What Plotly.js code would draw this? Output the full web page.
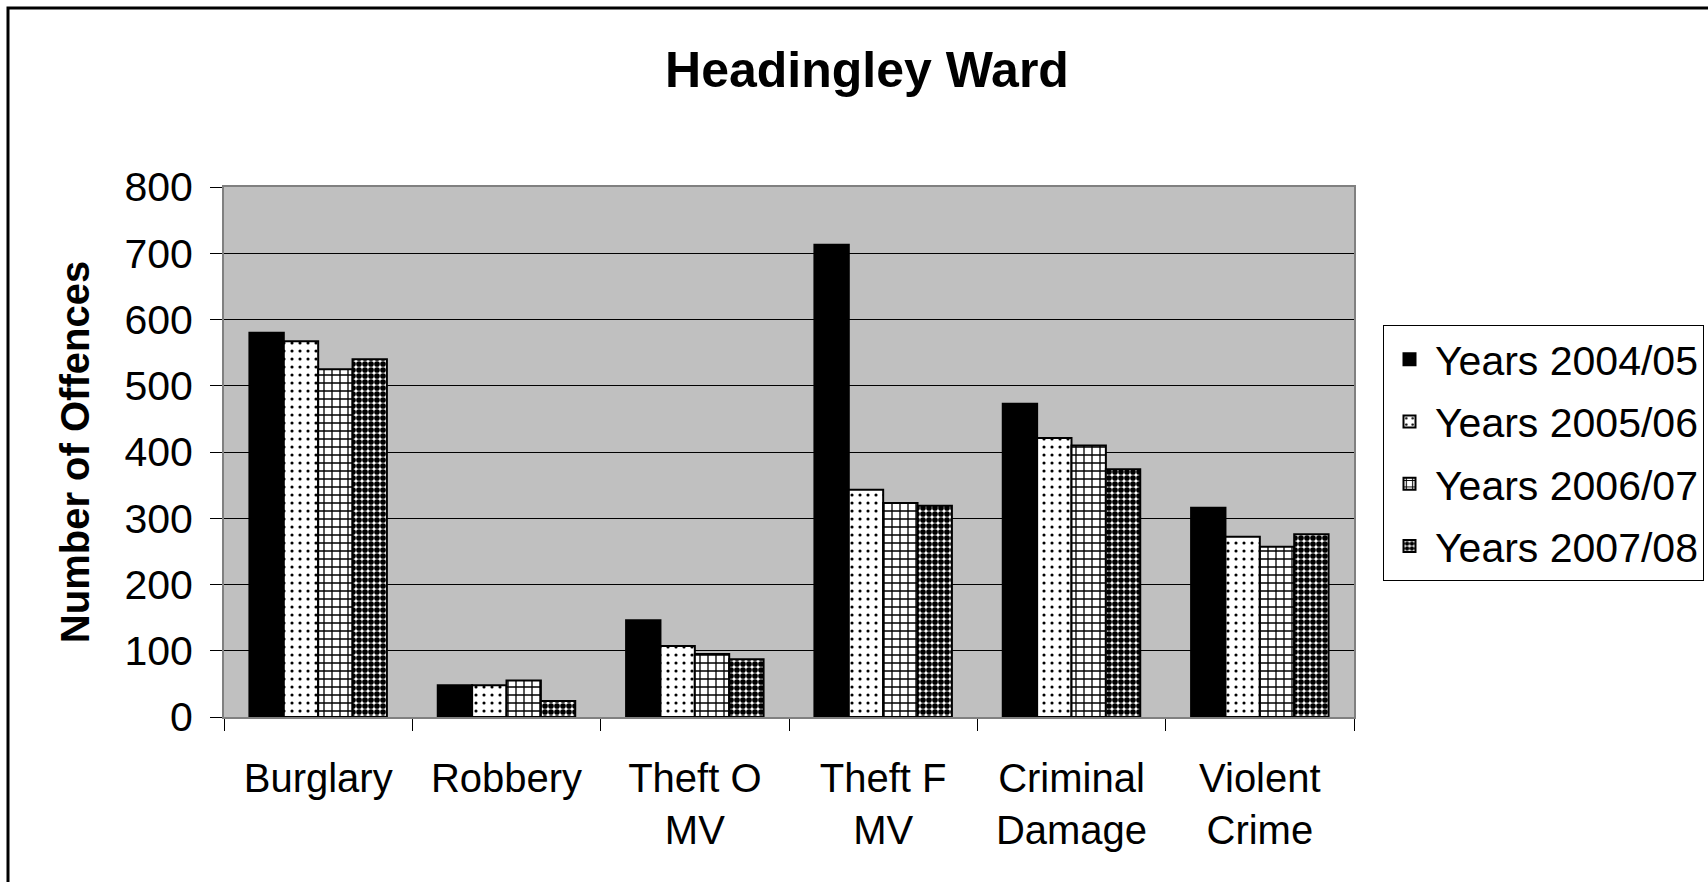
<!DOCTYPE html>
<html>
<head>
<meta charset="utf-8">
<script src="https://cdn.plot.ly/plotly-3.0.1.min.js"></script>
<style>
  html, body { margin: 0; padding: 0; background: #ffffff; }
  #chart { width: 1708px; height: 882px; }
</style>
</head>
<body>
<div id="chart"></div>
<script>
// ---- data ----
const categories = ["Burglary", "Robbery", "Theft O<br>MV", "Theft F<br>MV", "Criminal<br>Damage", "Violent<br>Crime"];
const seriesNames = ["Years 2004/05", "Years 2005/06", "Years 2006/07", "Years 2007/08"];
const years0405 = [580, 48, 146, 713, 473, 316];
const years0506 = [567, 48, 107, 343, 421, 272];
const years0607 = [525, 55, 95, 323, 410, 257];
const years0708 = [540, 24, 87, 319, 374, 276];
const yTicks = [0, 100, 200, 300, 400, 500, 600, 700, 800];

// ---- styles ----
const FONT = "Liberation Sans, Arial, Helvetica, sans-serif";
const styles = [
  { color: "#000000", pattern: { shape: "" } },
  { color: "#ffffff", pattern: { shape: ".", fgcolor: "#000000", bgcolor: "#ffffff", size: 8, solidity: 0.12 } },
  { color: "#ffffff", pattern: { shape: "+", fgcolor: "#000000", bgcolor: "#ffffff", size: 8, solidity: 0.3 } },
  { color: "#ffffff", pattern: { shape: ".", fgcolor: "#000000", bgcolor: "#ffffff", size: 6, solidity: 0.7 } }
];
const allSeries = [years0405, years0506, years0607, years0708];

const traces = allSeries.map((vals, i) => ({
  type: "bar",
  name: seriesNames[i],
  x: categories,
  y: vals,
  legendgroup: "g" + i,
  marker: {
    color: styles[i].color,
    pattern: styles[i].pattern,
    line: { color: "#000000", width: 2 }
  },
  hoverinfo: "x+y+name"
}));

// plot area geometry (px)
const W = 1708, H = 882;
const mL = 224, mR = 354, mT = 187, mB = 165;
const pw = W - mL - mR, ph = H - mT - mB;
const px = v => (v - mL) / pw;
const py = v => (H - mB - v) / ph;

const layout = {
  width: W,
  height: H,
  paper_bgcolor: "#ffffff",
  plot_bgcolor: "#c0c0c0",
  margin: { l: mL, r: mR, t: mT, b: mB, pad: 0, autoexpand: false },
  font: { family: FONT, color: "#000000", size: 40 },
  title: {
    text: "<b>Headingley Ward</b>",
    font: { family: FONT, size: 50, color: "#000000" },
    x: px(867), xanchor: "center", xref: "paper",
    y: 1 - 69 / H, yanchor: "middle", yref: "container"
  },
  barmode: "group",
  bargap: 0.27,
  bargroupgap: 0,
  xaxis: {
    type: "category",
    tickson: "boundaries",
    ticks: "outside",
    ticklen: 12,
    tickcolor: "#000000",
    tickwidth: 1,
    ticklabelstandoff: 25,
    showline: true,
    linecolor: "#808080",
    linewidth: 2,
    mirror: true,
    showgrid: false,
    tickfont: { family: FONT, size: 40, color: "#000000" },
    fixedrange: true
  },
  yaxis: {
    range: [0, 800],
    tickvals: yTicks,
    ticktext: yTicks.map(String),
    ticks: "outside",
    ticklen: 12,
    tickcolor: "#000000",
    tickwidth: 1,
    ticklabelstandoff: 9,
    showline: true,
    linecolor: "#808080",
    linewidth: 2,
    mirror: true,
    showgrid: true,
    gridcolor: "#000000",
    gridwidth: 1,
    zeroline: false,
    tickfont: { family: FONT, size: 41, color: "#000000" },
    title: { text: "<b>Number of Offences</b>", font: { family: FONT, size: 40, color: "#000000" }, standoff: 22 },
    fixedrange: true
  },
  legend: {
    x: px(1383), xanchor: "left",
    y: py(325), yanchor: "top",
    bgcolor: "#ffffff",
    bordercolor: "#000000",
    borderwidth: 1,
    itemwidth: 41,
    font: { family: FONT, size: 41, color: "#000000" },
    tracegroupgap: 6,
    traceorder: "grouped"
  },
  shapes: [
    {
      type: "rect", xref: "paper", yref: "paper",
      x0: px(8), x1: px(1730), y0: py(900), y1: py(8),
      line: { color: "#000000", width: 3 },
      fillcolor: "rgba(0,0,0,0)",
      layer: "below"
    }
  ]
};

Plotly.newPlot("chart", traces, layout, { displayModeBar: false, staticPlot: true });
</script>
</body>
</html>
